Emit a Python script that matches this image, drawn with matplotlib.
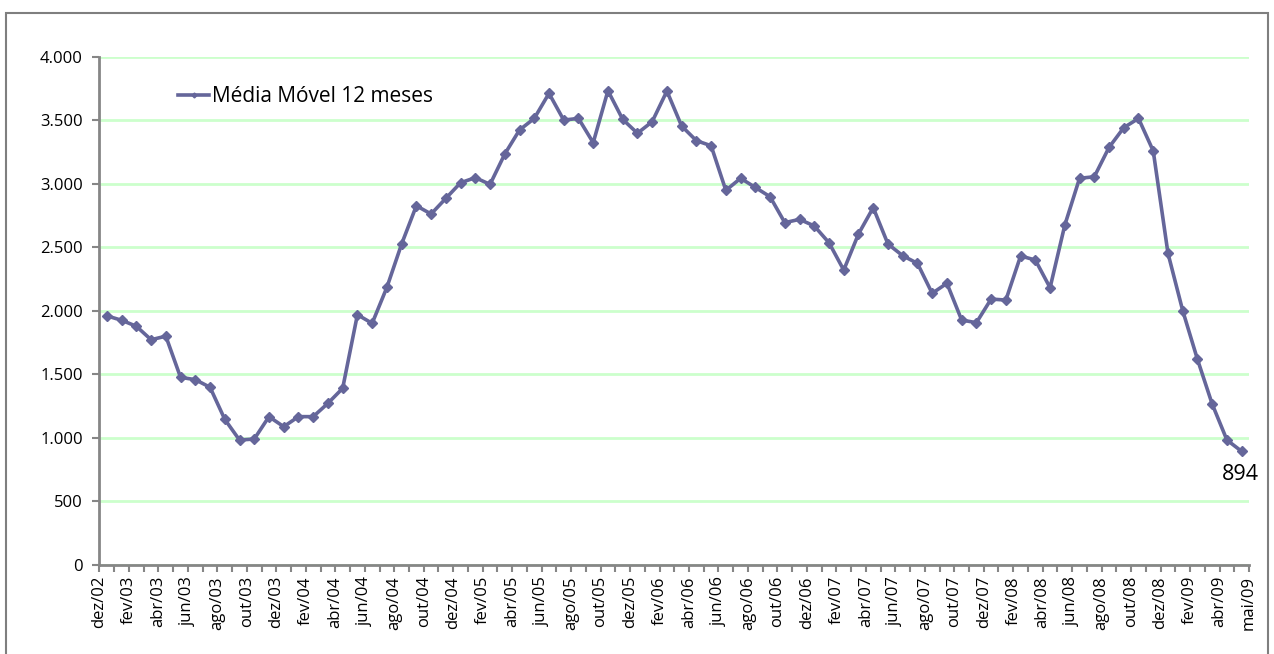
import matplotlib
matplotlib.use("Agg")
import matplotlib.pyplot as plt
from matplotlib.ticker import FuncFormatter
import numpy as np

plt.rcParams['font.family'] = ['Open Sans', 'DejaVu Sans']

month_abbr = ["jan", "fev", "mar", "abr", "mai", "jun", "jul", "ago", "set", "out", "nov", "dez"]
# monthly series: dez/02 .. mai/09
start_year, start_month = 2002, 12
values = [1960, 1925, 1878, 1772, 1800, 1476, 1458, 1398, 1146, 983,
          991, 1167, 1088, 1167, 1167, 1272, 1390, 1969, 1901, 2184,
          2525, 2826, 2761, 2884, 3007, 3047, 2994, 3233, 3422, 3513,
          3710, 3500, 3513, 3322, 3731, 3506, 3396, 3487, 3728, 3453,
          3338, 3298, 2947, 3042, 2970, 2897, 2693, 2719, 2667, 2535,
          2320, 2604, 2811, 2525, 2433, 2373, 2137, 2216, 1927, 1906,
          2092, 2084, 2431, 2399, 2181, 2674, 3042, 3054, 3285, 3440,
          3513, 3257, 2452, 2001, 1618, 1266, 983, 894]
series_label = "Média Móvel 12 meses"
last_label = "894"

n = len(values)
labels = []
for i in range(n):
    m = (start_month - 1 + i) % 12
    y = start_year + (start_month - 1 + i) // 12
    labels.append(f"{month_abbr[m]}/{y % 100:02d}")

line_color = "#65669A"
grid_color = "#CCFFCC"
axis_color = "#868686"

fig = plt.figure(figsize=(12.74, 6.54), dpi=100)
# outer frame
fig.patches.append(plt.Rectangle((0.005, -0.05), 0.99, 1.03, transform=fig.transFigure,
                                 fill=False, edgecolor="#7F7F7F", linewidth=1.5))
ax = fig.add_axes([0.0781, 0.1361, 0.9023, 0.7775])

x = np.arange(n) + 0.5
ax.plot(x, values, color=line_color, linewidth=2.6, marker="D", markersize=5.5,
        markerfacecolor=line_color, markeredgecolor=line_color, label=series_label, zorder=3)

ax.set_xlim(0, n)
ax.set_ylim(0, 4000)
ax.set_yticks(np.arange(0, 4001, 500))
ax.yaxis.set_major_formatter(FuncFormatter(lambda v, p: f"{int(v):,}".replace(",", ".")))
ax.yaxis.grid(True, color=grid_color, linewidth=2)
ax.set_axisbelow(True)

# category boundaries as ticks, labels every two months + last
tick_pos = list(range(0, n - 1, 2)) + [n]
tick_lab = [labels[i] for i in range(0, n - 1, 2)] + [labels[n - 1]]
lab_map = dict(zip(tick_pos, tick_lab))
ax.set_xticks(np.arange(0, n + 1))
ax.set_xticklabels([lab_map.get(i, "") for i in range(n + 1)], rotation=90)

for s in ["top", "right"]:
    ax.spines[s].set_visible(False)
for s in ["left", "bottom"]:
    ax.spines[s].set_color(axis_color)
    ax.spines[s].set_linewidth(2)
ax.tick_params(axis="both", colors=axis_color, width=1.5, length=5, labelcolor="black", labelsize=12)
ax.tick_params(axis="y", pad=7)
ax.tick_params(axis="x", pad=3)

ax.annotate(last_label, xy=(x[-1], values[-1]), xytext=(-1, -9), textcoords="offset points",
            ha="center", va="top", fontsize=15.5)

leg = ax.legend(loc="upper left", bbox_to_anchor=(0.052, 0.978), frameon=False, fontsize=15,
                handlelength=1.5, handletextpad=0.15, markerscale=0.45)

fig.savefig("out.png", dpi=100)
